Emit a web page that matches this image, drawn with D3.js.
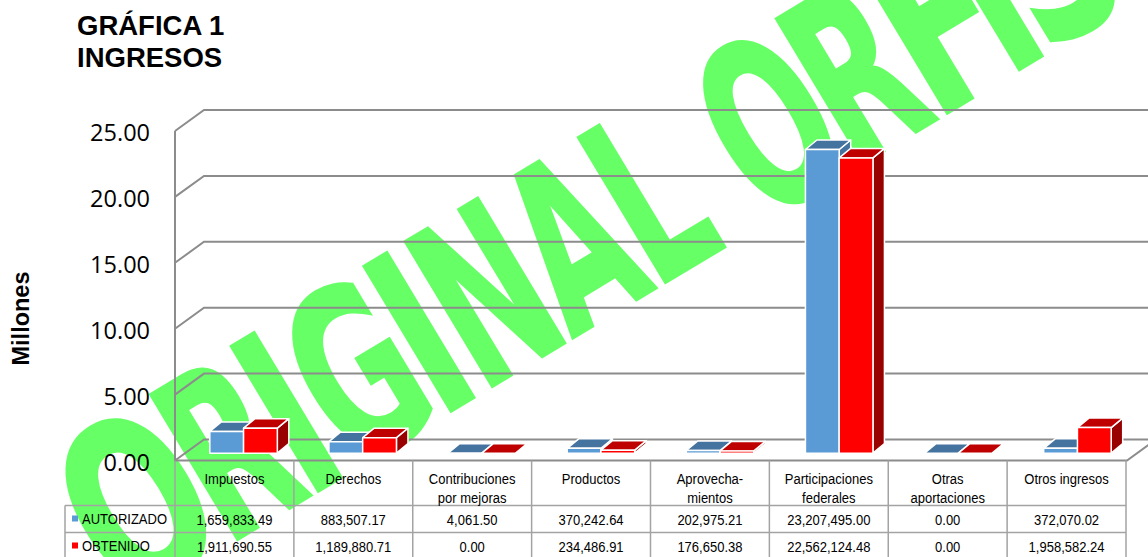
<!DOCTYPE html>
<html>
<head>
<meta charset="utf-8">
<script src="https://cdn.jsdelivr.net/npm/d3@7"></script>
<style>
  body { margin: 0; background: #fff; }
  svg { display: block; }
  text { fill: #000; }
</style>
</head>
<body>
<div id="content"></div>
<script>
// Données
var categories = ["Impuestos", "Derechos", "Contribuciones\npor mejoras", "Productos", "Aprovecha-\nmientos", "Participaciones\nfederales", "Otras\naportaciones", "Otros ingresos"];
var series = ["AUTORIZADO", "OBTENIDO"];
var autorizado = [1659833.49, 883507.17, 4061.50, 370242.64, 202975.21, 23207495.00, 0, 372070.02];
var obtenido = [1911690.55, 1189880.71, 0, 234486.91, 176650.38, 22562124.48, 0, 1958582.24];
var yTicks = [0, 5, 10, 15, 20, 25];
var titleLines = ["GRÁFICA 1", "INGRESOS"];
var watermark = "ORIGINALORFIS";

var width = 1148, height = 557;
var svg = d3.select("#content").append("svg").attr("width", width).attr("height", height);

var colors = {
  AUTORIZADO: { front: "#5B9BD5", top: "#44739F", side: "#44739F" },
  OBTENIDO: { front: "#FF0000", top: "#BF0000", side: "#990000" }
};
var gridColor = "#8c8c8c", tableColor = "#a3a3a3";
var fmt = d3.format(",.2f");

// Filigrane : chaque lettre est étirée entre ses bords le long de la ligne de base
var wmStart = [-200, -75, 19, 65, 174, 222, 316, 424, 546, 655, 753, 837, 878];
var wmEnd = [-85, 12, 47, 160, 202, 308, 415, 495, 645, 743, 835, 865, 965];
var wmFont = "bold 232px 'DejaVu Sans'";
var ctx = document.createElement("canvas").getContext("2d");
ctx.font = wmFont;

var wm = svg.append("g").attr("transform", "translate(301.3,501.3) rotate(-31)");
watermark.split("").forEach(function (ch, i) {
  var m = ctx.measureText(ch);
  var ink = m.actualBoundingBoxRight + m.actualBoundingBoxLeft;
  var sx = (wmEnd[i] - wmStart[i]) / ink;
  wm.append("text")
      .attr("transform", "translate(" + (wmStart[i] + m.actualBoundingBoxLeft * sx) + ",0) scale(" + sx + ",1)")
      .style("font", wmFont)
      .style("fill", "#66FF66")
      .style("stroke", "#66FF66")
      .style("stroke-width", 3)
      .text(ch);
});

// Titre
svg.selectAll("text.title")
    .data(titleLines)
  .join("text")
    .attr("class", "title")
    .attr("x", 77)
    .attr("y", (d, i) => 35 + i * 32)
    .style("font", "bold 27.5px 'Liberation Sans'")
    .text(d => d);

svg.append("text")
    .attr("transform", "translate(28.5,318.5) rotate(-90)")
    .attr("text-anchor", "middle")
    .style("font", "bold 23.5px 'Liberation Sans'")
    .text("Millones");

// Échelles
var depth = { x: 29, y: -21 };
var barDepth = { x: 11.5, y: -9.5 };
var y = d3.scaleLinear().domain([0, 25]).range([460.5, 131]);
var yBar = d3.scaleLinear().domain([0, 25]).range([453.2, 126]);
var xTable = d3.scaleBand().domain(d3.range(categories.length)).range([175, 1126]);
var xBar = d3.scaleBand().domain(d3.range(categories.length)).range([184, 1137]);
var xSeries = d3.scaleBand().domain(series).range([0, 67.5]);

// Murs et grille
var walls = svg.append("g").attr("fill", "none").attr("stroke", gridColor).attr("stroke-width", 2);
yTicks.forEach(function (t) {
  walls.append("path").attr("d", d3.line()([
    [175, y(t)], [175 + depth.x, y(t) + depth.y], [width, y(t) + depth.y]
  ]));
});
walls.append("path").attr("d", d3.line()([[175, y(25)], [175, y(0)], [1127, y(0)], [1127 + depth.x, y(0) + depth.y]]));

// Axe
var yAxis = svg.append("g")
    .attr("transform", "translate(150,2)")
    .call(d3.axisLeft(y).tickValues(yTicks).tickSize(0).tickPadding(0).tickFormat(d3.format(".2f")));
yAxis.select(".domain").remove();
yAxis.selectAll("text").style("font", "23.5px 'Open Sans'").attr("fill", "#000");

// Barres 3D
var bars = [];
categories.forEach(function (c, i) {
  bars.push({ i: i, s: "AUTORIZADO", v: autorizado[i] / 1e6 });
  bars.push({ i: i, s: "OBTENIDO", v: obtenido[i] / 1e6 });
});

var barGroups = svg.append("g").selectAll("g")
    .data(bars)
  .join("g")
    .attr("stroke", "#fff")
    .attr("stroke-width", 1.5)
    .attr("stroke-linejoin", "round");

function barBox(d) {
  var x0 = xBar(d.i) + (xBar.bandwidth() - xSeries.bandwidth() * 2) / 2 + xSeries(d.s);
  return { x0: x0, x1: x0 + xSeries.bandwidth(), top: yBar(d.v), base: yBar(0) };
}

barGroups.append("path")
    .attr("fill", d => colors[d.s].side)
    .attr("d", function (d) {
      var b = barBox(d);
      return d3.line()([[b.x1, b.top], [b.x1 + barDepth.x, b.top + barDepth.y], [b.x1 + barDepth.x, b.base + barDepth.y], [b.x1, b.base]]) + "Z";
    });
barGroups.append("path")
    .attr("fill", d => colors[d.s].top)
    .attr("d", function (d) {
      var b = barBox(d);
      return d3.line()([[b.x0, b.top], [b.x0 + barDepth.x, b.top + barDepth.y], [b.x1 + barDepth.x, b.top + barDepth.y], [b.x1, b.top]]) + "Z";
    });
barGroups.append("rect")
    .attr("fill", d => colors[d.s].front)
    .attr("x", d => barBox(d).x0)
    .attr("y", d => barBox(d).top)
    .attr("width", xSeries.bandwidth())
    .attr("height", d => barBox(d).base - barBox(d).top);

// Tableau
var rows = [460.5, 505.5, 532.5, 560];
var table = svg.append("g").attr("stroke", tableColor).attr("stroke-width", 1.5);
xTable.domain().concat(categories.length).forEach(function (i) {
  var xPos = i < categories.length ? xTable(i) : xTable.range()[1];
  table.append("line").attr("x1", xPos).attr("x2", xPos).attr("y1", rows[0]).attr("y2", rows[3]);
});
table.append("line").attr("x1", 65).attr("x2", 65).attr("y1", rows[1]).attr("y2", rows[3]);
[rows[1], rows[2]].forEach(function (r) {
  table.append("line").attr("x1", 65).attr("x2", 1126).attr("y1", r).attr("y2", r);
});

// texte étroit (pas d'Arial Narrow ici)
function cellText(xPos, yPos, str, anchor) {
  svg.append("text")
      .attr("transform", "translate(" + xPos + "," + yPos + ") scale(0.84,1)")
      .attr("text-anchor", anchor)
      .style("font", "15.5px 'Liberation Sans'")
      .text(str);
}

categories.forEach(function (c, i) {
  c.split("\n").forEach(function (line, k) {
    cellText(xTable(i) + xTable.bandwidth() / 2, 484 + k * 19, line, "middle");
  });
});

[autorizado, obtenido].forEach(function (vals, r) {
  var base = 525 + r * 27;
  vals.forEach(function (d, i) {
    cellText(xTable(i) + xTable.bandwidth() / 2, base, fmt(d), "middle");
  });
  svg.append("rect")
      .attr("x", 72).attr("y", base - 9.5)
      .attr("width", 6).attr("height", 6)
      .attr("fill", colors[series[r]].front);
  cellText(82, base - 1, series[r], "start");
});
</script>
</body>
</html>
